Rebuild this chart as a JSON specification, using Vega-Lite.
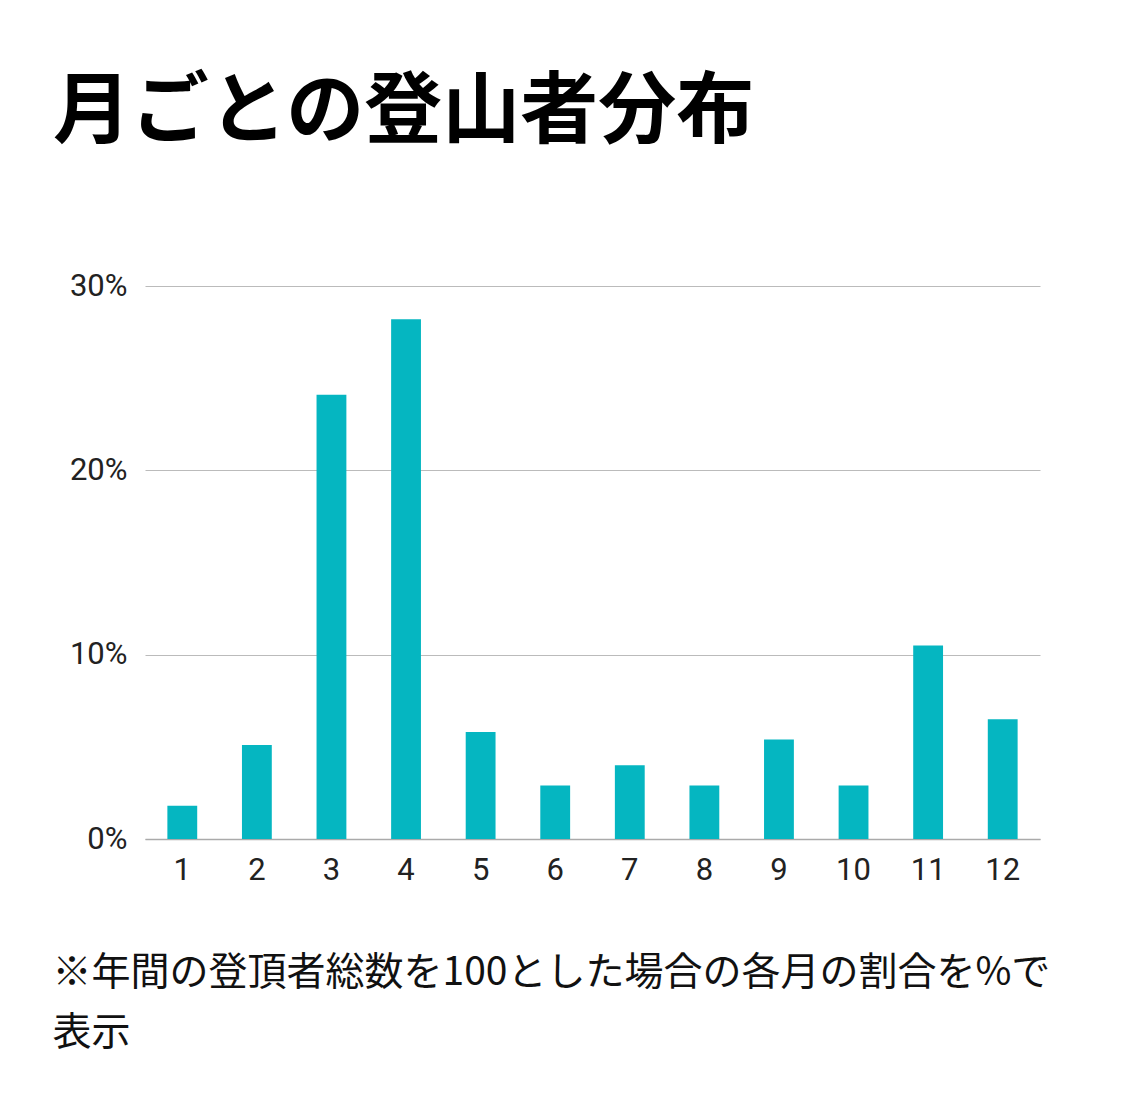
{
  "$schema": "https://vega.github.io/schema/vega-lite/v6.json",
  "autosize": "none",
  "width": 895,
  "height": 553,
  "padding": {"left": 145, "top": 286, "right": 100, "bottom": 276},
  "background": "white",
  "config": {
    "view": {"stroke": null},
    "font": "Roboto"
  },
  "title": {
    "text": "月ごとの登山者分布",
    "font": "Noto Sans CJK JP",
    "fontSize": 78,
    "fontWeight": "bold",
    "color": "#000000",
    "anchor": "start",
    "frame": "group",
    "dx": -92,
    "offset": 117
  },
  "data": {
    "values": [
      {"month": "1", "share": 1.8},
      {"month": "2", "share": 5.1},
      {"month": "3", "share": 24.1},
      {"month": "4", "share": 28.2},
      {"month": "5", "share": 5.8},
      {"month": "6", "share": 2.9},
      {"month": "7", "share": 4.0},
      {"month": "8", "share": 2.9},
      {"month": "9", "share": 5.4},
      {"month": "10", "share": 2.9},
      {"month": "11", "share": 10.5},
      {"month": "12", "share": 6.5}
    ]
  },
  "mark": {"type": "bar", "color": "#05b6c1"},
  "encoding": {
    "x": {
      "field": "month",
      "type": "ordinal",
      "sort": null,
      "scale": {"paddingInner": 0.6, "paddingOuter": 0.3},
      "title": ["※年間の登頂者総数を100とした場合の各月の割合を%で", "表示"],
      "axis": {
        "labelAngle": 0,
        "labelFont": "Roboto",
        "labelFontSize": 31,
        "labelColor": "#222222",
        "labelPadding": 16,
        "ticks": false,
        "domainColor": "#aaaaaa",
        "domainWidth": 1.5,
        "titleFont": "Noto Sans CJK JP",
        "titleFontSize": 39,
        "titleFontWeight": "normal",
        "titleColor": "#111111",
        "titleAnchor": "start",
        "titleAlign": "left",
        "titleBaseline": "top",
        "titleX": -93,
        "titleY": 114,
        "titleLineHeight": 60
      }
    },
    "y": {
      "field": "share",
      "type": "quantitative",
      "scale": {"domain": [0, 30]},
      "title": null,
      "axis": {
        "values": [0, 10, 20, 30],
        "labelExpr": "datum.value + '%'",
        "labelFont": "Roboto",
        "labelFontSize": 31,
        "labelColor": "#222222",
        "labelPadding": 18,
        "ticks": false,
        "domain": false,
        "gridColor": "#bbbbbb",
        "gridWidth": 1.2
      }
    }
  }
}
